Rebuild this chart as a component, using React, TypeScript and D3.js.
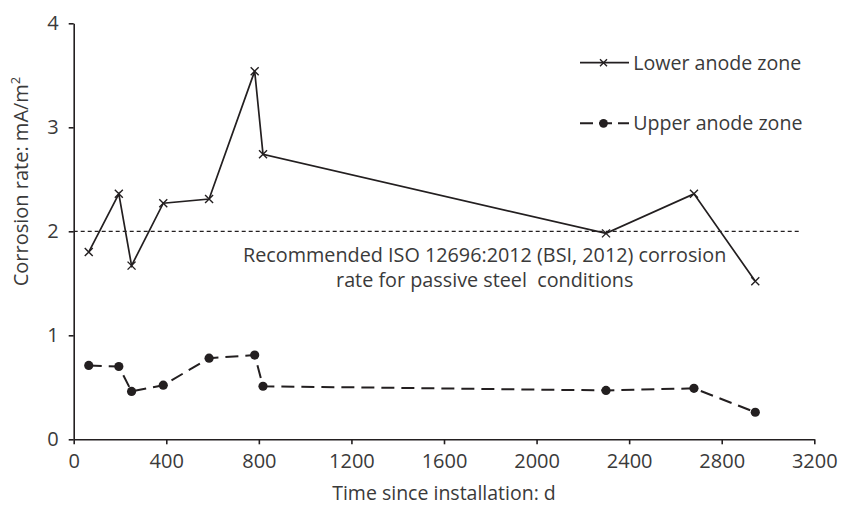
import { useRef, useEffect } from "react";
import * as d3 from "d3";

// days since installation
const days = [65, 195, 250, 387, 585, 782, 818, 2300, 2680, 2945];
const lowerZone = [1.8, 2.36, 1.67, 2.27, 2.31, 3.54, 2.74, 1.98, 2.36, 1.52];
const upperZone = [0.71, 0.7, 0.46, 0.52, 0.78, 0.81, 0.51, 0.47, 0.49, 0.26];

const xTicks = [0, 400, 800, 1200, 1600, 2000, 2400, 2800, 3200];
const yTicks = [0, 1, 2, 3, 4];

const refValue = 2;
const refSpan = [0, 3140];
const refNote = [
  "Recommended ISO 12696:2012 (BSI, 2012) corrosion",
  "rate for passive steel  conditions",
];

const legendNames = ["Lower anode zone", "Upper anode zone"];

const WIDTH = 841;
const HEIGHT = 506;
const INK = "#231f20";
const TEXT = "#3a3a3a";
const FONT = "'Open Sans', 'Noto Sans', sans-serif";

function CorrosionChart() {
  const xAxisRef = useRef<SVGGElement>(null);
  const yAxisRef = useRef<SVGGElement>(null);

  const x = d3.scaleLinear().domain([0, 3200]).range([73.7, 814.3]);
  const y = d3.scaleLinear().domain([0, 4]).range([439.3, 23.3]);

  useEffect(() => {
    const xAxis = d3.axisBottom(x).tickValues(xTicks).tickSize(5).tickSizeOuter(0).tickPadding(10).tickFormat(d3.format("d"));
    const yAxis = d3.axisLeft(y).tickValues(yTicks).tickSize(5).tickSizeOuter(0).tickPadding(10).tickFormat(d3.format("d"));

    const gx = d3.select(xAxisRef.current).call(xAxis);
    const gy = d3.select(yAxisRef.current).call(yAxis);

    [gx, gy].forEach((g) => {
      g.select(".domain").attr("stroke", INK).attr("stroke-width", 1.6);
      g.selectAll(".tick line").attr("stroke", INK).attr("stroke-width", 1.6);
      g.selectAll(".tick text")
        .attr("fill", TEXT)
        .style("font-family", FONT)
        .style("font-size", "20px");
    });
  }, []);

  const pts = days.map((d, i) => ({ d, lo: lowerZone[i], up: upperZone[i] }));

  const lowerLine = d3.line<any>().x((p) => x(p.d)).y((p) => y(p.lo));
  const upperLine = d3.line<any>().x((p) => x(p.d)).y((p) => y(p.up));

  const cross = (cx: number, cy: number, s: number) =>
    `M${cx - s},${cy - s}L${cx + s},${cy + s}M${cx - s},${cy + s}L${cx + s},${cy - s}`;

  const legX = 580;
  const legY = [62.7, 123.3];

  return (
    <svg width={WIDTH} height={HEIGHT} style={{ position: "absolute", left: 0, top: 0, background: "#fff" }}>
      {/* reference line */}
      <line
        x1={x(refSpan[0])}
        x2={x(refSpan[1])}
        y1={y(refValue)}
        y2={y(refValue)}
        stroke={INK}
        strokeWidth={1.2}
        strokeDasharray="4 3"
      />
      <text
        x={484.7}
        y={261.7}
        textAnchor="middle"
        fill={TEXT}
        style={{ fontFamily: FONT, fontSize: 19.8, whiteSpace: "pre" }}
      >
        <tspan x={484.7}>{refNote[0]}</tspan>
        <tspan x={484.7} dy={25}>{refNote[1]}</tspan>
      </text>

      <g ref={xAxisRef} transform={`translate(0,${y(0)})`} />
      <g ref={yAxisRef} transform={`translate(${x(0)},0)`} />

      {/* lower anode zone */}
      <path d={lowerLine(pts) || ""} fill="none" stroke={INK} strokeWidth={1.7} />
      {pts.map((p, i) => (
        <path key={"lo" + i} d={cross(x(p.d), y(p.lo), 4)} stroke={INK} strokeWidth={1.4} />
      ))}

      {/* upper anode zone */}
      <path d={upperLine(pts) || ""} fill="none" stroke={INK} strokeWidth={2} strokeDasharray="13 7" />
      {pts.map((p, i) => (
        <circle key={"up" + i} cx={x(p.d)} cy={y(p.up)} r={4.6} fill={INK} />
      ))}

      {/* legend */}
      <g>
        <line x1={legX} x2={legX + 49} y1={legY[0]} y2={legY[0]} stroke={INK} strokeWidth={1.7} />
        <path d={cross(legX + 23.5, legY[0], 3.5)} stroke={INK} strokeWidth={1.4} />
        <text x={633.3} y={legY[0] + 7} fill={TEXT} style={{ fontFamily: FONT, fontSize: 19.6 }}>
          {legendNames[0]}
        </text>

        <line x1={legX} x2={legX + 49} y1={legY[1]} y2={legY[1]} stroke={INK} strokeWidth={2} strokeDasharray="13 6" />
        <circle cx={legX + 23.5} cy={legY[1]} r={4.4} fill={INK} />
        <text x={633.3} y={legY[1] + 7} fill={TEXT} style={{ fontFamily: FONT, fontSize: 19.6 }}>
          {legendNames[1]}
        </text>
      </g>

      {/* axis titles */}
      <text
        transform={`translate(28,181.5) rotate(-90)`}
        textAnchor="middle"
        fill={TEXT}
        style={{ fontFamily: FONT, fontSize: 20 }}
      >
        Corrosion rate: mA/m<tspan dy={-8} style={{ fontSize: 13 }}>2</tspan>
      </text>
      <text x={444} y={500} textAnchor="middle" fill={TEXT} style={{ fontFamily: FONT, fontSize: 19.5 }}>
        Time since installation: d
      </text>
    </svg>
  );
}

export default function App() {
  return <CorrosionChart />;
}
